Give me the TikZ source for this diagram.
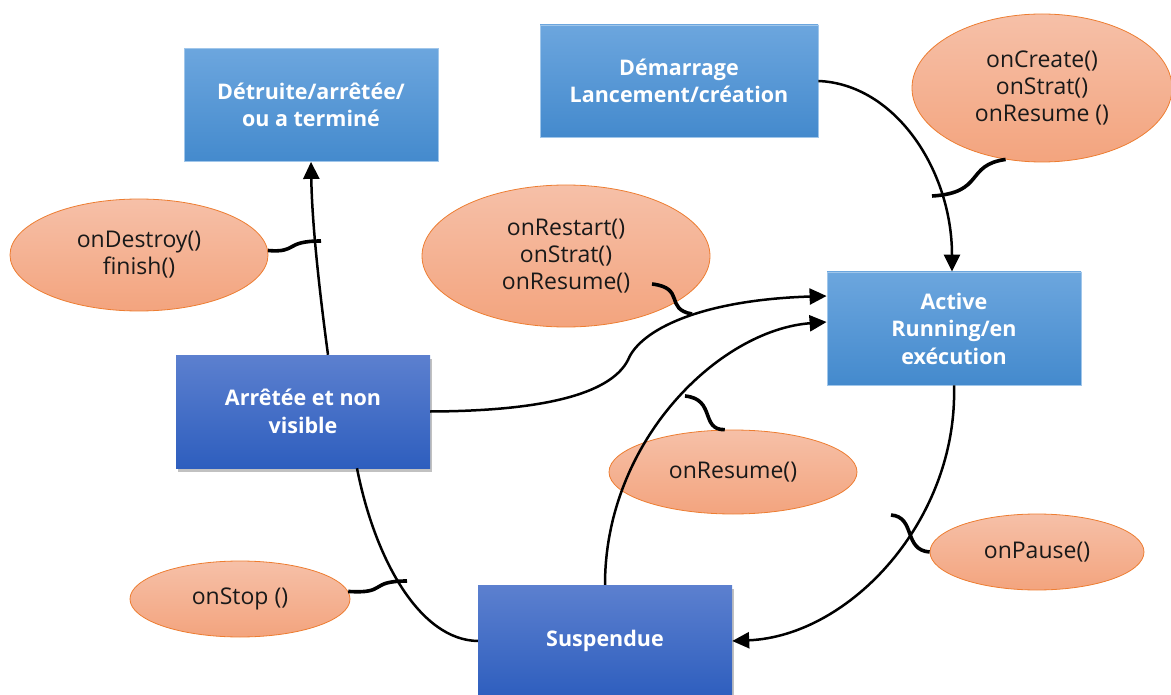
\documentclass[tikz,border=0pt]{standalone}
\usepackage{fontspec}
\setmainfont{Open Sans}
\usetikzlibrary{shapes.geometric,arrows.meta,shadows}

\definecolor{ltop}{RGB}{108,166,222}
\definecolor{lbot}{RGB}{68,138,205}
\definecolor{lborder}{RGB}{160,198,234}
\definecolor{dtop}{RGB}{92,128,207}
\definecolor{dbot}{RGB}{46,94,190}
\definecolor{etop}{RGB}{246,192,168}
\definecolor{ebot}{RGB}{243,164,126}
\definecolor{eborder}{RGB}{237,125,49}
\definecolor{etext}{RGB}{25,25,25}

\begin{document}
\begin{tikzpicture}[x=1pt,y=-1pt,
  state/.style={rectangle, minimum width=254pt, minimum height=113pt, inner sep=0pt,
    align=center, text=white, font=\fontsize{21.5}{27.5}\selectfont\bfseries},
  lightstate/.style={state, top color=ltop, bottom color=lbot, draw=lborder, line width=0.8pt},
  darkstate/.style={state, top color=dtop, bottom color=dbot,
    drop shadow={shadow xshift=2pt, shadow yshift=-4pt, opacity=0.35, fill=black!70}},
  callback/.style={ellipse, inner sep=0pt, top color=etop, bottom color=ebot,
    draw=eborder, line width=0.8pt, align=center, text=etext,
    font=\fontsize{23}{27}\selectfont},
  flow/.style={line width=2.5pt, -{Triangle[length=17pt,width=16pt]}},
  plain/.style={line width=2.5pt},
  hook/.style={line width=3.6pt}
]
\clip (0,0) rectangle (1171,695);

% lifecycle states
\node[lightstate] (det) at (311,105) {Détruite/arrêtée/\\ou a terminé};
\node[lightstate, minimum width=278pt, minimum height=112pt] (dem) at (679,81) {Démarrage\\Lancement/création};
\node[lightstate] (act) at (954,328.5) {Active\\Running/en\\exécution};
\node[darkstate] (arr) at (303,411.5) {Arrêtée et non\\visible};
\node[darkstate, minimum height=112pt] (sus) at (605,641) {Suspendue};

% callbacks
\node[callback, minimum width=260pt, minimum height=148pt] (ecreate) at (1042,88) {onCreate()\\onStrat()\\onResume ()};
\node[callback, minimum width=258pt, minimum height=112pt] (edestroy) at (139,255) {onDestroy()\\finish()};
\node[callback, minimum width=288pt, minimum height=142pt] (erestart) at (566,256) {onRestart()\\onStrat()\\onResume()};
\node[callback, minimum width=248pt, minimum height=84pt] (eresume) at (733,472) {onResume()};
\node[callback, minimum width=214pt, minimum height=76pt] (epause) at (1037,552) {onPause()};
\node[callback, minimum width=220pt, minimum height=76pt] (estop) at (240,599) {onStop ()};

% transitions
\draw[flow] (dem.east) .. controls (895,84) and (952,170) .. ([xshift=-2pt]act.north);
\draw[flow] (act.south) .. controls (958,520) and (850,636) .. (sus.east);
\draw[flow] (sus.north) .. controls (605,440) and (720,330) .. ([yshift=6.5pt]act.west);
\draw[flow] (arr.east) .. controls (540,411) and (610,395) .. (628,360)
  .. controls (640,330) and (700,300) .. ([yshift=32.5pt]act.west);
\draw[flow] ([xshift=25pt]arr.north) .. controls (318,280) and (312,220) .. (det.south);
\draw[plain] ([xshift=54pt]arr.south) .. controls (375,560) and (420,640) .. (sus.west);

% hooks tying each callback to its transition
\coordinate (hcreate) at (932,196);
\coordinate (hdestroy) at (321,241);
\coordinate (hrestartA) at (652,284);
\coordinate (hrestart) at (692,314);
\coordinate (hresume) at (685,396);
\coordinate (hpause) at (891,515);
\coordinate (hstop) at (407,581);

\draw[hook] (ecreate.243) .. controls (965,165) and (985,193) .. (hcreate);
\draw[hook] (edestroy.2) .. controls (298,253) and (284,241) .. (hdestroy);
\draw[hook] (hrestartA) .. controls (686,288) and (664,309) .. (hrestart);
\draw[hook] (eresume.101) .. controls (700,430) and (716,399) .. (hresume);
\draw[hook] (epause.west) .. controls (903,550) and (916,517) .. (hpause);
\draw[hook] (estop.4) .. controls (388,594) and (368,581) .. (hstop);
\end{tikzpicture}
\end{document}
